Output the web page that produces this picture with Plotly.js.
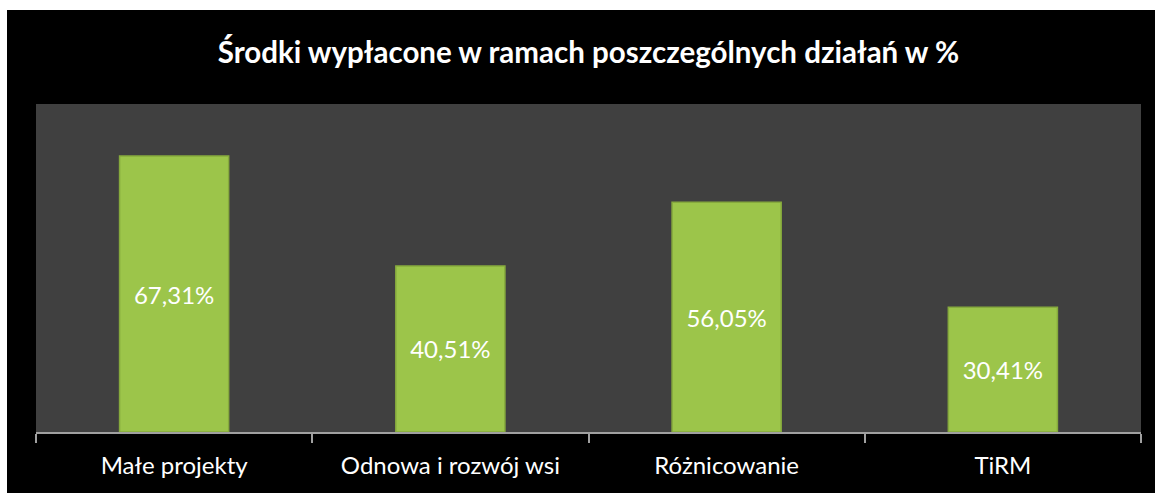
<!DOCTYPE html>
<html>
<head>
<meta charset="utf-8">
<script src="https://cdn.plot.ly/plotly-3.0.1.min.js"></script>
<style>
html,body{margin:0;padding:0;background:#ffffff;}
#chart{position:absolute;left:7px;top:10px;width:1148px;height:483px;}
</style>
</head>
<body>
<div id="chart"></div>
<script>
const categories = ["Małe projekty", "Odnowa i rozwój wsi", "Różnicowanie", "TiRM"];
const values = [67.31, 40.51, 56.05, 30.41];
const labels = ["67,31%", "40,51%", "56,05%", "30,41%"];

const trace = {
  type: "bar",
  x: categories,
  y: values,
  text: labels,
  textposition: "inside",
  insidetextanchor: "middle",
  textfont: {family: "Lato, 'Open Sans', sans-serif", size: 24, color: "#ffffff"},
  marker: {color: "#9cc54a", line: {color: "#86aa3d", width: 1.5}},
  hoverinfo: "none"
};

const layout = {
  width: 1148, height: 483,
  margin: {l: 29, r: 14, t: 94, b: 61},
  paper_bgcolor: "#000000",
  plot_bgcolor: "#404040",
  bargap: 0.605,
  showlegend: false,
  title: {
    text: "<b>Środki wypłacone w ramach poszczególnych działań w %</b>",
    font: {family: "Lato, 'Open Sans', sans-serif", size: 29.5, color: "#ffffff"},
    x: 0.5, xref: "paper", y: 0.912, yref: "container", yanchor: "middle"
  },
  xaxis: {
    showline: true, linecolor: "#a0a0a0", linewidth: 2,
    ticks: "outside", tickson: "boundaries", ticklen: 9, tickcolor: "#a0a0a0", tickwidth: 2,
    ticklabelstandoff: 11,
    tickfont: {family: "Lato, 'Open Sans', sans-serif", size: 24, color: "#ffffff"},
    showgrid: false
  },
  yaxis: {
    range: [0, 80], visible: false, showgrid: false, zeroline: false
  }
};

Plotly.newPlot("chart", [trace], layout, {staticPlot: true, displayModeBar: false});
</script>
</body>
</html>
